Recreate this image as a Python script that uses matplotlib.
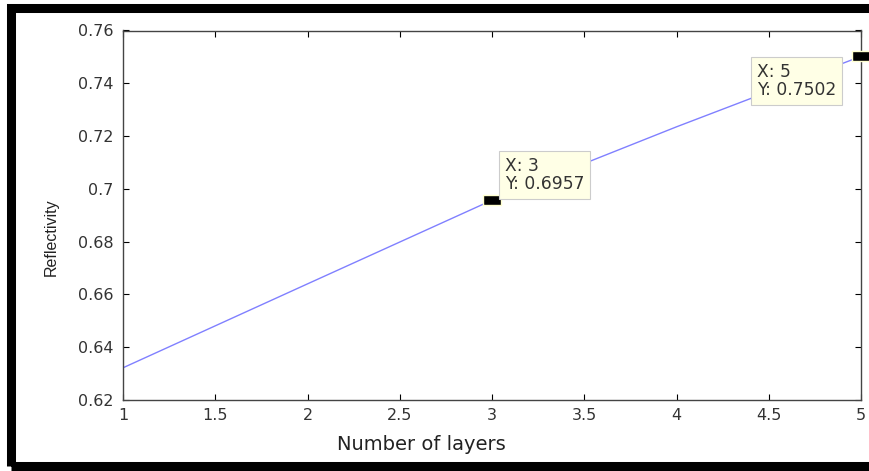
import matplotlib
matplotlib.use("Agg")
import matplotlib.pyplot as plt
from matplotlib.patches import Rectangle

layers = [1, 2, 3, 4, 5]
reflectivity = [0.6322, 0.6640, 0.6957, 0.7235, 0.7502]
tip_x = [3, 5]
tip_y = [0.6957, 0.7502]
tip_labels = ["X: 3\nY: 0.6957", "X: 5\nY: 0.7502"]
xticks = [1, 1.5, 2, 2.5, 3, 3.5, 4, 4.5, 5]
xtick_labels = ["1", "1.5", "2", "2.5", "3", "3.5", "4", "4.5", "5"]
yticks = [0.62, 0.64, 0.66, 0.68, 0.70, 0.72, 0.74, 0.76]
ytick_labels = ["0.62", "0.64", "0.66", "0.68", "0.7", "0.72", "0.74", "0.76"]

W, H = 869, 471
fig = plt.figure(figsize=(W / 100, H / 100), dpi=100)
ax = fig.add_axes([123 / W, 1 - 400 / H, (861 - 123) / W, (400 - 30.5) / H])

ax.plot(layers, reflectivity, color="#8080ff", lw=1.0)
rect_marker = [(-1, -0.6), (1, -0.6), (1, 0.6), (-1, 0.6), (-1, -0.6)]
ax.plot(tip_x, tip_y, ls="none", marker=rect_marker, ms=13, mfc="black", mec="#ffffd0",
        mew=1.0, clip_on=False, zorder=5)

ax.set_xlim(1, 5)
ax.set_ylim(0.62, 0.76)
ax.set_xticks(xticks)
ax.set_xticklabels(xtick_labels)
ax.set_yticks(yticks)
ax.set_yticklabels(ytick_labels)
ax.tick_params(direction="in", length=4, width=0.8, top=True, right=True,
               labelsize=11.5, labelcolor="#333333")
ax.tick_params(axis="y", pad=7)
ax.tick_params(axis="x", pad=6)
for s in ax.spines.values():
    s.set_color("#444444")
    s.set_linewidth(1.0)
ax.set_xlabel("Number of layers", fontsize=14, color="#222222", va="center")
ax.xaxis.set_label_coords((421 - 123) / 738, (400 - 444) / 369.5)
ax.set_ylabel("Reflectivity", fontsize=11.5, family="Liberation Sans", color="#222222",
              va="center")
ax.yaxis.set_label_coords((51 - 123) / 738, (400 - 237) / 369.5)

tip_pos = [(3.07, 0.7051), (4.436, 0.7409)]
for (tx, ty), lab in zip(tip_pos, tip_labels):
    ax.text(tx, ty, lab, fontsize=12.3, ha="left", va="center", linespacing=1.0,
            color="#333333",
            bbox=dict(boxstyle="square,pad=0.35", fc="#ffffe6", ec="#cccccc", lw=0.8),
            zorder=6)

fig.patches.append(Rectangle((10.5 / W, 1 - 466 / H), 1.0, (466 - 7.5) / H,
                             transform=fig.transFigure, fill=False, ec="black", lw=6.5,
                             clip_on=False))

fig.savefig("out.png", dpi=100)
